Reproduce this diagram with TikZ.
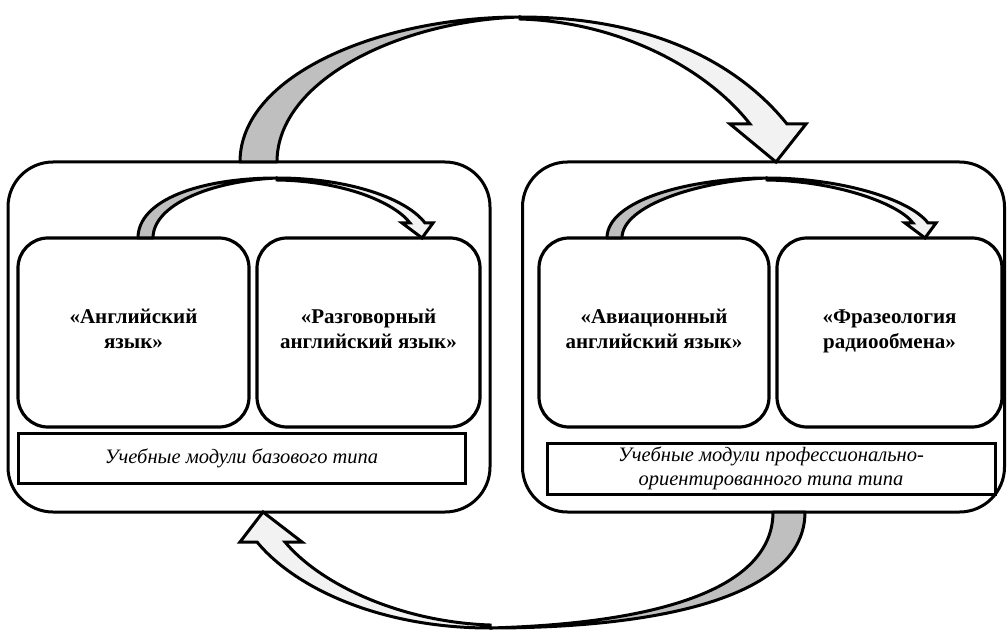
\documentclass[tikz,border=0pt]{standalone}
\usepackage{fontspec}
\setmainfont{Liberation Serif}

\tikzset{
  group/.style={draw, line width=3pt, rounded corners=45pt, minimum width=482pt, minimum height=350pt, inner sep=0pt},
  module/.style={draw, line width=3.2pt, rounded corners=30pt, minimum height=189pt, inner sep=0pt, align=center,
    font=\fontsize{21}{25}\selectfont\bfseries, execute at begin node=\strut, execute at end node=\strut},
  capbox/.style={draw, line width=3pt, minimum width=447pt, minimum height=50pt, inner sep=0pt, align=center,
    font=\fontsize{20.5}{24}\selectfont\itshape},
  backface/.style={draw, line width=3pt, line join=round, fill=gray!50},
  frontface/.style={draw, line width=3pt, line join=miter, fill=gray!10}
}

\begin{document}
\begin{tikzpicture}[x=1pt, y=-1pt]
    \useasboundingbox (0,0) rectangle (1007,631);

    % the two groups of modules
    \node[group] (baseGroup) at (249,337) {};
    \node[group, minimum width=482pt] (profGroup) at (763.5,337) {};

    \node[module, minimum width=231pt] (english) at (133.5,332.5) {«Английский\\язык»};
    \node[module, minimum width=223pt] (spoken) at (368.5,332.5) {«Разговорный\\английский язык»};
    \node[module, minimum width=230pt] (aviation) at (654,332.5) {«Авиационный\\английский язык»};
    \node[module, minimum width=225pt] (phrases) at (889.5,332.5) {«Фразеология\\радиообмена»};

    \node[capbox] (baseCap) at (241.5,458) {Учебные модули базового типа};
    \node[capbox, minimum width=448pt, minimum height=51pt] (profCap) at (771,468.5) {Учебные модули профессионально-\\ориентированного типа типа};

    % small arrows inside the groups
    \foreach \s/\a/\t in {138/277/422, 607/767/925} {
        \draw[backface] (\s,238) .. controls (\s,200) and (\a-77,178) .. (\a,178)
            .. controls (\a-67,181) and (\s+15,205) .. (\s+15,238) -- cycle;
        \draw[frontface] (\a,178) .. controls (\a+73,178) and (\t-15,199) .. (\t+3,223)
            -- (\t+11,223) -- (\t,238) -- (\t-20,223) -- (\t-12,223)
            .. controls (\t-27,203) and (\a+68,181) .. (\a,180) -- cycle;
    }

    % big arrow on top
    \draw[backface] (240,162) .. controls (240,75) and (380,17) .. (520,17)
        .. controls (400,21) and (277,80) .. (277,162) -- cycle;
    \draw[frontface] (520,17) .. controls (650,17) and (737,62) .. (787,124)
        -- (806,124) -- (776,162) -- (730,124) -- (750,124)
        .. controls (707,69) and (620,22) .. (520,19) -- cycle;

    % big arrow at the bottom
    \draw[backface] (805,512) .. controls (805,600) and (650,628) .. (490,628)
        .. controls (640,624) and (773,595) .. (773,512) -- cycle;
    \draw[frontface] (490,628) .. controls (380,628) and (295,588) .. (257,542)
        -- (240,542) -- (263,512) -- (302,542) -- (285,542)
        .. controls (320,584) and (400,622) .. (490,625) -- cycle;
\end{tikzpicture}
\end{document}
